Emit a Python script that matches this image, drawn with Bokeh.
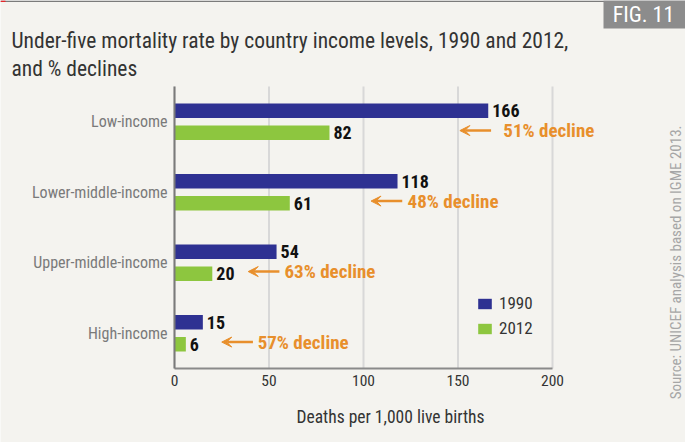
import math
from bokeh.plotting import figure
from bokeh.models import (Range1d, FixedTicker, ColumnDataSource, LabelSet, Label,
                          Arrow, VeeHead, Legend, LegendItem, LinearAxis, BoxAnnotation)
from bokeh.transform import dodge
from bokeh.core.properties import value
from bokeh.embed import file_html
from bokeh.resources import INLINE

# ---- data ----
categories = ["Low-income", "Lower-middle-income", "Upper-middle-income", "High-income"]
rate_1990 = [166, 118, 54, 15]
rate_2012 = [82, 61, 20, 6]
decline_labels = ["51% decline", "48% decline", "63% decline", "57% decline"]
decline_arrow_tip = [151, 104, 39, 25]      # annotation anchor (x, data units)
decline_text_at = [174, 123.3, 58.2, 44]    # annotation text start (x, data units)
x_ticks = [0, 50, 100, 150, 200]
x_max = 200
title_lines = ["Under-five mortality rate by country income levels, 1990 and 2012,",
               "and % declines"]
x_title = "Deaths per 1,000 live births"
source_text = "Source: UNICEF analysis based on IGME 2013."
fig_tag = "FIG. 11"

# ---- layout (pixels) and styles ----
W, H = 685, 442
PL, PR, PT, PB = 174, 552, 86, 368     # plot area edges on the canvas
BG = "#f4f3ef"
BLUE = "#2e3192"
GREEN = "#8dc63f"
ORANGE = "#e88f2c"
FONT = "Roboto Condensed, DejaVu Sans Condensed, sans-serif"

n = len(categories)
xs = (PR - PL) / x_max
ys = (PB - PT) / n
x_range = Range1d(-PL / xs, (W - PL) / xs)
y_range = Range1d(-(H - PB) / ys, n + PT / ys)

ypos = [n - 0.5 - i for i in range(n)]
arrow_len = 16.5

src = ColumnDataSource(dict(
    y=ypos, v1990=rate_1990, v2012=rate_2012,
    t1990=[str(v) for v in rate_1990], t2012=[str(v) for v in rate_2012],
    dec=decline_labels, tip=decline_arrow_tip,
    tail=[t + arrow_len for t in decline_arrow_tip],
    tx=decline_text_at,
))

p = figure(width=W, height=H, x_range=x_range, y_range=y_range,
           output_backend="svg", toolbar_location=None,
           x_axis_location=None, y_axis_location=None, min_border=0,
           background_fill_color=BG, border_fill_color=BG, outline_line_color=None)
p.xgrid.visible = False
p.ygrid.visible = False

# grid lines at the x ticks
p.segment(x0=x_ticks, x1=x_ticks, y0=[0] * len(x_ticks), y1=[n] * len(x_ticks),
          line_color="#d8d8d8", line_width=2)

off = 0.155
bh = 0.206
r1 = p.hbar(y=dodge("y", off), left=0, right="v1990", height=bh, source=src,
            fill_color=BLUE, line_color=None)
r2 = p.hbar(y=dodge("y", -off), left=0, right="v2012", height=bh, source=src,
            fill_color=GREEN, line_color=None)

# value labels
for col, tcol, o in (("v1990", "t1990", off), ("v2012", "t2012", -off)):
    p.add_layout(LabelSet(x=col, y=dodge("y", o), text=tcol, source=src, x_offset=4,
                          text_baseline="middle", text_font=value(FONT),
                          text_font_style="bold", text_font_size="18px", text_color="#111111"))

# decline arrows + labels
ay = dodge("y", -off + 0.03)
p.add_layout(Arrow(x_start="tail", x_end="tip", y_start=ay, y_end=ay, source=src,
                   line_color=ORANGE, line_width=2.5,
                   end=VeeHead(size=10, fill_color=ORANGE, line_color=ORANGE)))
p.add_layout(LabelSet(x="tx", y=ay, text="dec", source=src,
                      text_baseline="middle", text_font=value(FONT),
                      text_font_style="bold", text_font_size="19px", text_color=ORANGE))

# axes, fixed at the plot area's edges
xa = LinearAxis(fixed_location=0, bounds=(0, x_max), ticker=FixedTicker(ticks=x_ticks))
xa.major_tick_out = 0
xa.major_tick_in = 0
xa.minor_tick_line_color = None
xa.axis_line_color = "#8a8a8a"
xa.axis_line_width = 2
xa.major_label_text_font = FONT
xa.major_label_text_font_size = "15.5px"
xa.major_label_text_color = "#333333"
xa.major_label_standoff = 6
p.add_layout(xa, "below")

ya = LinearAxis(fixed_location=0, bounds=(0, n), ticker=FixedTicker(ticks=ypos))
ya.major_label_overrides = {y: c for y, c in zip(ypos, categories)}
ya.major_tick_out = 0
ya.major_tick_in = 0
ya.minor_tick_line_color = None
ya.axis_line_color = "#7a7a7a"
ya.axis_line_width = 2
ya.major_label_text_font = FONT
ya.major_label_text_font_size = "16px"
ya.major_label_text_color = "#7a7a7a"
ya.major_label_standoff = 7
p.add_layout(ya, "left")

# legend
leg = Legend(items=[LegendItem(label="1990", renderers=[r1]),
                    LegendItem(label="2012", renderers=[r2])],
             location=(476, 104), orientation="vertical",
             background_fill_alpha=0, border_line_color=None,
             padding=0, margin=0, spacing=5,
             glyph_width=17, glyph_height=13, label_height=20, label_standoff=6,
             label_text_font=FONT, label_text_font_size="17px", label_text_color="#333333")
p.add_layout(leg)

# texts (screen units: from canvas left / canvas bottom)
def lab(**kw):
    kw.setdefault("x_units", "screen")
    kw.setdefault("y_units", "screen")
    kw.setdefault("text_font", FONT)
    return Label(**kw)

def sbox(left, right, top, bottom, color):
    return BoxAnnotation(left=left, right=right, top=H - top, bottom=H - bottom,
                         left_units="screen", right_units="screen",
                         top_units="screen", bottom_units="screen",
                         fill_color=color, fill_alpha=1, line_color=None)

p.add_layout(sbox(0, W, 0, 1.5, "#7b7b7b"))
p.add_layout(sbox(0, 5, 0, 1.5, "#e8262a"))

p.add_layout(lab(x=11, y=H - 40, text=title_lines[0], text_font_size="21.5px",
                 text_color="#333333", text_baseline="alphabetic"))
p.add_layout(lab(x=11, y=H - 68, text=title_lines[1], text_font_size="21.5px",
                 text_color="#333333", text_baseline="alphabetic"))
p.add_layout(lab(x=390, y=H - 416, text=x_title, text_font_size="17.5px", text_color="#333333",
                 text_align="center", text_baseline="alphabetic"))
p.add_layout(lab(x=675, y=H - 125, text=source_text, angle=math.pi / 2, text_align="right",
                 text_baseline="alphabetic", text_font_size="15px", text_color="#a6a6a6"))
p.add_layout(sbox(603, W, 0, 28, "#8c8c8c"))
p.add_layout(lab(x=643, y=H - 14, text=fig_tag, text_font_size="22px", text_color="white",
                 text_align="center", text_baseline="alphabetic"))

open("out.html", "w").write(file_html(p, INLINE))
